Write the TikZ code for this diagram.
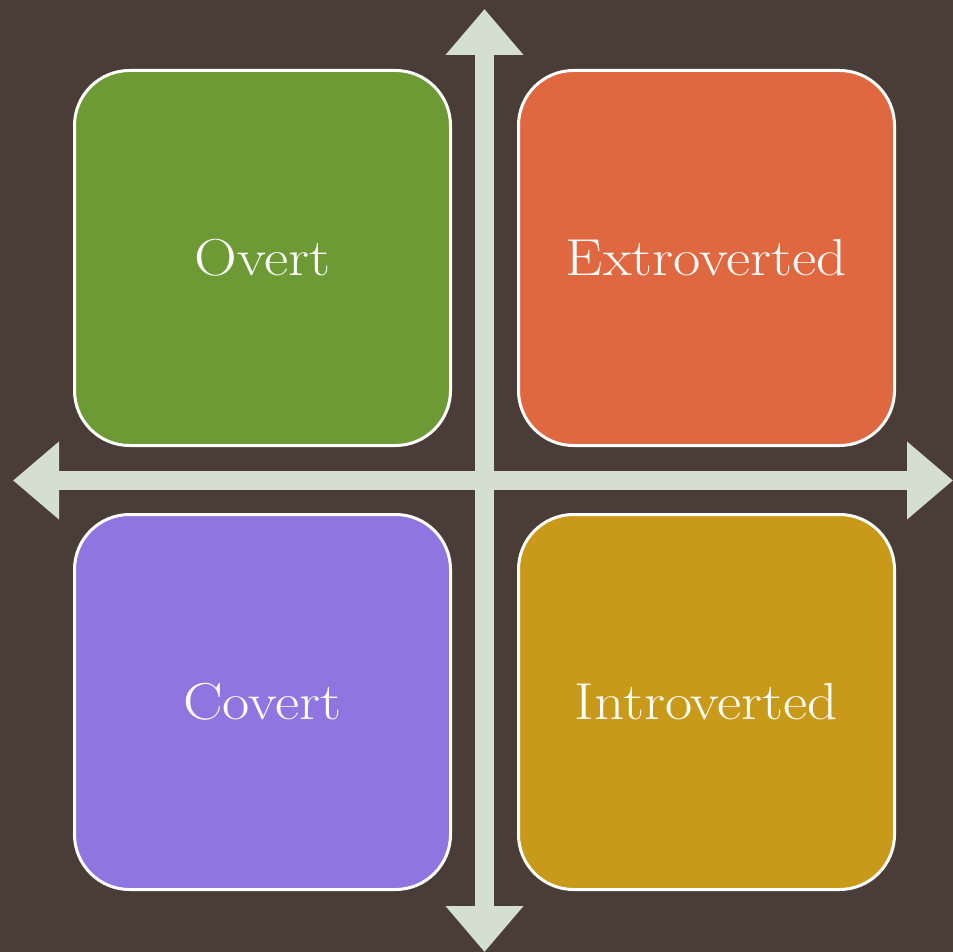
\documentclass[tikz,border=0pt]{standalone}
\usetikzlibrary{arrows.meta}
\definecolor{bgwood}{HTML}{4A3D38}
\definecolor{axiscol}{HTML}{D4DFCF}
\definecolor{boxgreen}{HTML}{6E9A35}
\definecolor{boxorange}{HTML}{E06841}
\definecolor{boxpurple}{HTML}{8E75E0}
\definecolor{boxgold}{HTML}{C99A1A}
\newcommand{\quadlabel}[1]{\scalebox{1.14}[1]{#1}}
\tikzset{
  quad/.style={draw=white, line width=3pt, rounded corners=55pt,
    minimum width=376pt, minimum height=375pt, inner sep=0pt,
    text=white, font=\fontsize{52}{60}\selectfont},
  axisline/.style={draw=axiscol, line width=19pt,
    {Triangle[length=46pt,width=75pt]}-{Triangle[length=46pt,width=75pt]}}
}
\begin{document}
\begin{tikzpicture}[x=1pt,y=-1pt]
\fill[bgwood] (0,0) rectangle (953,952);
\useasboundingbox (0,0) rectangle (953,952);
\coordinate (top) at (484.5,9);
\coordinate (bottom) at (484.5,952);
\coordinate (left) at (13,480.5);
\coordinate (right) at (953,480.5);
\draw[axisline] (left) -- (right);
\draw[axisline] (bottom) -- (top);
\node[quad, fill=boxgreen] (overt) at (262.5,258) {\quadlabel{Overt}};
\node[quad, fill=boxorange] (extro) at (706.5,258) {\quadlabel{Extroverted}};
\node[quad, fill=boxpurple] (covert) at (262.5,702) {\quadlabel{Covert}};
\node[quad, fill=boxgold] (intro) at (706.5,702) {\quadlabel{Introverted}};
\end{tikzpicture}
\end{document}
